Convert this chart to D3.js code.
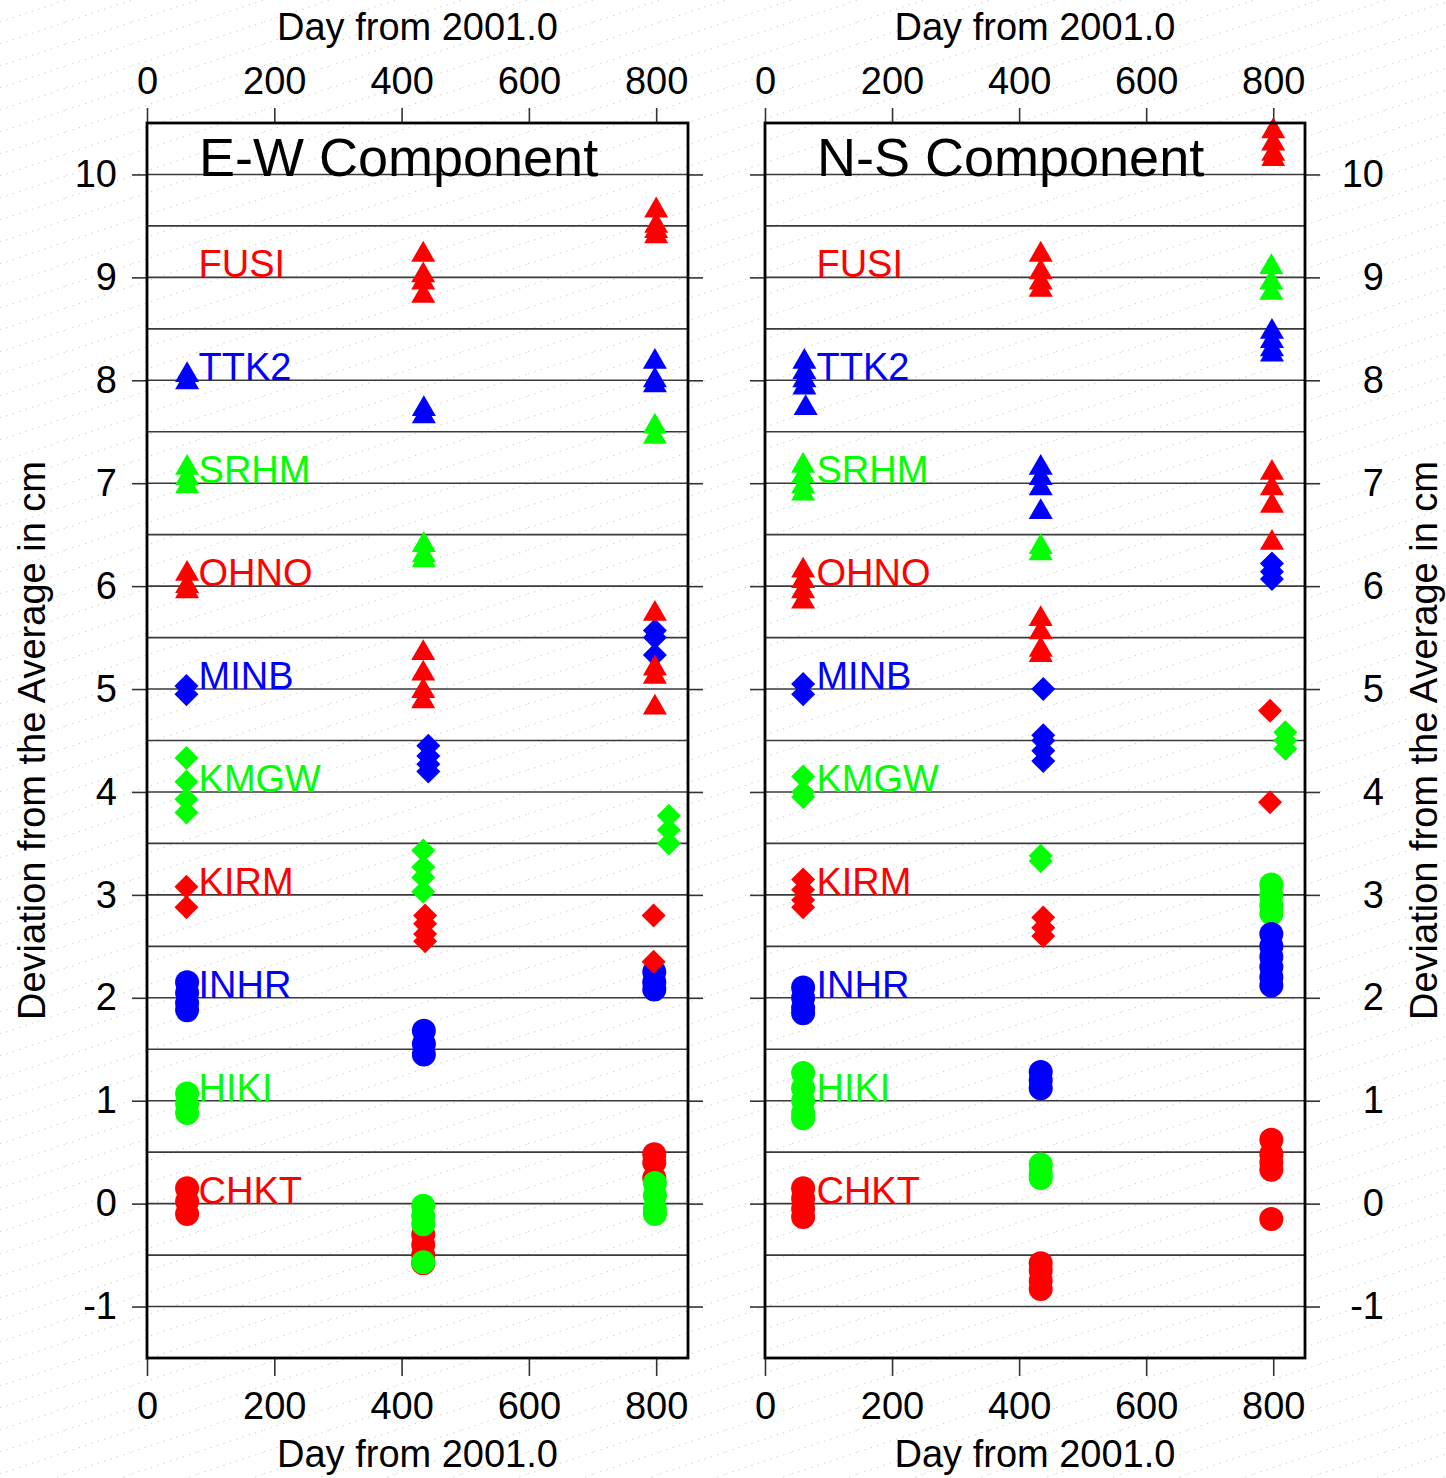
<!DOCTYPE html>
<html>
<head>
<meta charset="utf-8">
<script src="https://cdn.jsdelivr.net/npm/d3@7"></script>
<style>
  body { margin: 0; background: #fff; }
  svg text { font-family: "Liberation Sans", Arial, sans-serif; }
</style>
</head>
<body>
<div id="root"></div>
<script>
// stations, bottom to top (also drawing order)
const stations = ["CHKT", "HIKI", "INHR", "KIRM", "KMGW", "MINB", "OHNO", "SRHM", "TTK2", "FUSI"];
const stationBase = [0, 1, 2, 3, 4, 5, 6, 7, 8, 9];
const stationShape = ["circle", "circle", "circle", "diamond", "diamond", "diamond", "triangle", "triangle", "triangle", "triangle"];

const xTicks = [0, 200, 400, 600, 800];
const yTicks = [-1, 0, 1, 2, 3, 4, 5, 6, 7, 8, 9, 10];

// E-W component, [day, deviation cm]
const ewCHKT = [[63, 0.15], [63, 0.02], [63, -0.1], [434, -0.3], [434, -0.4], [434, -0.5], [434, -0.58], [797, 0.48], [797, 0.4], [797, 0.25]];
const ewHIKI = [[63, 1.07], [63, 0.97], [63, 0.88], [434, -0.02], [434, -0.12], [434, -0.2], [434, -0.57], [798, 0.2], [798, 0.08], [798, -0.05], [798, -0.1]];
const ewINHR = [[63, 2.15], [63, 2.05], [63, 1.95], [63, 1.88], [435, 1.68], [435, 1.55], [435, 1.45], [797, 2.25], [797, 2.15], [797, 2.08]];
const ewKIRM = [[62, 3.08], [62, 2.88], [437, 2.8], [437, 2.72], [437, 2.62], [437, 2.55], [796, 2.8], [796, 2.35]];
const ewKMGW = [[62, 4.33], [62, 4.1], [62, 3.93], [62, 3.8], [434, 3.43], [434, 3.27], [434, 3.17], [434, 3.03], [820, 3.77], [820, 3.63], [820, 3.5]];
const ewMINB = [[62, 5.03], [62, 4.95], [442, 4.45], [442, 4.35], [442, 4.27], [442, 4.2], [798, 5.57], [798, 5.5], [798, 5.33]];
const ewOHNO = [[63, 6.12], [63, 6.0], [63, 5.95], [434, 5.35], [434, 5.15], [434, 4.98], [434, 4.88], [798, 5.73], [798, 5.2], [798, 5.12], [798, 4.82]];
const ewSRHM = [[63, 7.15], [63, 7.05], [63, 6.97], [435, 6.4], [435, 6.3], [435, 6.25], [798, 7.55], [798, 7.45]];
const ewTTK2 = [[63, 8.05], [63, 7.98], [435, 7.72], [435, 7.65], [798, 8.18], [798, 8.0], [798, 7.95]];
const ewFUSI = [[434, 9.22], [434, 9.02], [434, 8.95], [434, 8.82], [800, 9.65], [800, 9.5], [800, 9.45], [800, 9.4]];

// N-S component
const nsCHKT = [[60, 0.15], [60, 0.05], [60, -0.05], [60, -0.13], [434, -0.58], [434, -0.65], [434, -0.75], [434, -0.83], [797, 0.62], [797, 0.48], [797, 0.4], [797, 0.33], [797, -0.15]];
const nsHIKI = [[60, 1.27], [60, 1.12], [60, 1.0], [60, 0.88], [60, 0.83], [434, 0.38], [434, 0.3], [434, 0.25], [797, 3.1], [797, 3.0], [797, 2.9], [797, 2.82]];
const nsINHR = [[60, 2.1], [60, 2.0], [60, 1.9], [60, 1.85], [434, 1.28], [434, 1.2], [434, 1.12], [797, 2.62], [797, 2.5], [797, 2.4], [797, 2.3], [797, 2.2], [797, 2.12]];
const nsKIRM = [[60, 3.15], [60, 3.05], [60, 2.95], [60, 2.88], [438, 2.78], [438, 2.68], [438, 2.6], [795, 4.79], [795, 3.9]];
const nsKMGW = [[60, 4.15], [60, 4.0], [60, 3.95], [434, 3.38], [434, 3.33], [819, 4.58], [819, 4.5], [819, 4.42]];
const nsMINB = [[60, 5.05], [60, 4.95], [438, 5.0], [438, 4.55], [438, 4.5], [438, 4.4], [438, 4.3], [798, 6.22], [798, 6.14], [798, 6.07]];
const nsOHNO = [[60, 6.15], [60, 6.05], [60, 5.95], [60, 5.85], [434, 5.68], [434, 5.55], [434, 5.38], [434, 5.33], [798, 7.1], [798, 6.95], [798, 6.78], [798, 6.42]];
const nsSRHM = [[60, 7.17], [60, 7.07], [60, 6.97], [60, 6.9], [434, 6.38], [434, 6.32], [797, 9.1], [797, 8.95], [797, 8.85]];
const nsTTK2 = [[62, 8.18], [62, 8.08], [62, 8.0], [62, 7.93], [64, 7.73], [434, 7.15], [434, 7.05], [434, 6.95], [434, 6.72], [798, 8.47], [798, 8.38], [798, 8.3], [798, 8.25]];
const nsFUSI = [[434, 9.22], [434, 9.05], [434, 8.95], [434, 8.88], [800, 10.42], [800, 10.3], [800, 10.2], [800, 10.15]];

const ewSeries = [ewCHKT, ewHIKI, ewINHR, ewKIRM, ewKMGW, ewMINB, ewOHNO, ewSRHM, ewTTK2, ewFUSI];
const nsSeries = [nsCHKT, nsHIKI, nsINHR, nsKIRM, nsKMGW, nsMINB, nsOHNO, nsSRHM, nsTTK2, nsFUSI];

const colors = ["#ff0000", "#00ff00", "#0000ff"]; // CHKT red, HIKI green, INHR blue, ...
const colorOf = i => colors[i % 3];

const W = 1446, H = 1478;
const plotTop = 123, plotBottom = 1358;
const fs = 38;

const svg = d3.select("#root").append("svg")
  .attr("width", W)
  .attr("height", H);

// faint dotted texture of the background
const defs = svg.append("defs");
const pat = defs.append("pattern")
  .attr("id", "dots")
  .attr("patternUnits", "userSpaceOnUse")
  .attr("width", 66)
  .attr("height", 22);
pat.append("line")
  .attr("x1", 0).attr("y1", 22).attr("x2", 66).attr("y2", 0)
  .attr("stroke", "#c4c4c4")
  .attr("stroke-width", 1.2)
  .attr("stroke-dasharray", "1.2 5.5");
svg.append("rect").attr("width", W).attr("height", H).attr("fill", "#fff");
svg.append("rect").attr("width", W).attr("height", H).attr("fill", "url(#dots)").attr("opacity", 0.8);

const symbols = {
  circle: d3.symbol().type(d3.symbolCircle).size(Math.PI * 12 * 12),
  diamond: d3.symbol().type(d3.symbolSquare).size(288),
  triangle: d3.symbol().type(d3.symbolTriangle).size(250)
};

const plainNum = d => String(d); // hyphen minus like the original

function panel(x0, x1, title, series, labelSide) {
  const x = d3.scaleLinear().domain([0, 850]).range([x0, x1]);
  const y = d3.scaleLinear().domain([-1.5, 10.5]).range([plotBottom, plotTop]);
  const g = svg.append("g");

  // half-unit grid lines inside the box
  const grid = d3.range(-1, 10.51, 0.5);
  g.selectAll(".grid")
    .data(grid)
    .enter().append("line")
    .attr("x1", x0).attr("x2", x1)
    .attr("y1", d => y(d)).attr("y2", d => y(d))
    .attr("stroke", "#3a3a3a")
    .attr("stroke-width", 1.6);

  // axes
  const styleAxis = sel => {
    sel.select(".domain").remove();
    sel.selectAll(".tick line").attr("stroke", "#333").attr("stroke-width", 1.6);
    sel.selectAll(".tick text").attr("font-size", fs).attr("fill", "#000")
      .style("font-family", '"Liberation Sans", Arial, sans-serif');
  };

  g.append("g")
    .attr("transform", `translate(0,${plotTop})`)
    .call(d3.axisTop(x).tickValues(xTicks).tickFormat(plainNum).tickSize(15).tickPadding(14))
    .call(styleAxis);

  g.append("g")
    .attr("transform", `translate(0,${plotBottom})`)
    .call(d3.axisBottom(x).tickValues(xTicks).tickFormat(plainNum).tickSize(18).tickPadding(16))
    .call(styleAxis);

  const axL = d3.axisLeft(y).tickValues(yTicks).tickSize(15).tickPadding(15);
  const axR = d3.axisRight(y).tickValues(yTicks).tickSize(15).tickPadding(15);
  if (labelSide === "left") { axL.tickFormat(plainNum); axR.tickFormat(""); }
  else { axR.tickFormat(plainNum); axL.tickFormat(""); }

  g.append("g").attr("transform", `translate(${x0},0)`).call(axL).call(styleAxis);
  const ra = g.append("g").attr("transform", `translate(${x1},0)`).call(axR).call(styleAxis);
  if (labelSide === "right") {
    ra.selectAll(".tick text").attr("text-anchor", "end").attr("x", 79);
  }

  // axis titles
  const cx = (x0 + x1) / 2;
  g.append("text").attr("x", cx).attr("y", 40).attr("text-anchor", "middle")
    .attr("font-size", fs).text("Day from 2001.0");
  g.append("text").attr("x", cx).attr("y", 1467).attr("text-anchor", "middle")
    .attr("font-size", fs).text("Day from 2001.0");
  const yt = labelSide === "left" ? 45 : 1437;
  g.append("text")
    .attr("transform", `translate(${yt},${(plotTop + plotBottom) / 2}) rotate(-90)`)
    .attr("text-anchor", "middle")
    .attr("font-size", fs)
    .text("Deviation from the Average in cm");

  // station labels
  g.selectAll(".lab")
    .data(stations)
    .enter().append("text")
    .attr("x", x(81))
    .attr("y", (d, i) => y(stationBase[i]))
    .attr("font-size", fs)
    .attr("fill", (d, i) => colorOf(i))
    .text(d => d);

  // markers
  series.forEach((pts, i) => {
    g.selectAll(null)
      .data(pts)
      .enter().append("path")
      .attr("d", symbols[stationShape[i]])
      .attr("transform", d => `translate(${x(d[0])},${y(d[1])})` + (stationShape[i] === "diamond" ? " rotate(45)" : ""))
      .attr("fill", colorOf(i));
  });

  // box
  g.append("rect")
    .attr("x", x0).attr("y", plotTop)
    .attr("width", x1 - x0).attr("height", plotBottom - plotTop)
    .attr("fill", "none")
    .attr("stroke", "#000")
    .attr("stroke-width", 2.8);

  // panel title
  g.append("text")
    .attr("x", x0 + 52).attr("y", plotTop + 53)
    .attr("font-size", 54)
    .text(title);
}

panel(147, 688, "E-W Component", ewSeries, "left");
panel(765, 1305, "N-S Component", nsSeries, "right");
</script>
</body>
</html>
